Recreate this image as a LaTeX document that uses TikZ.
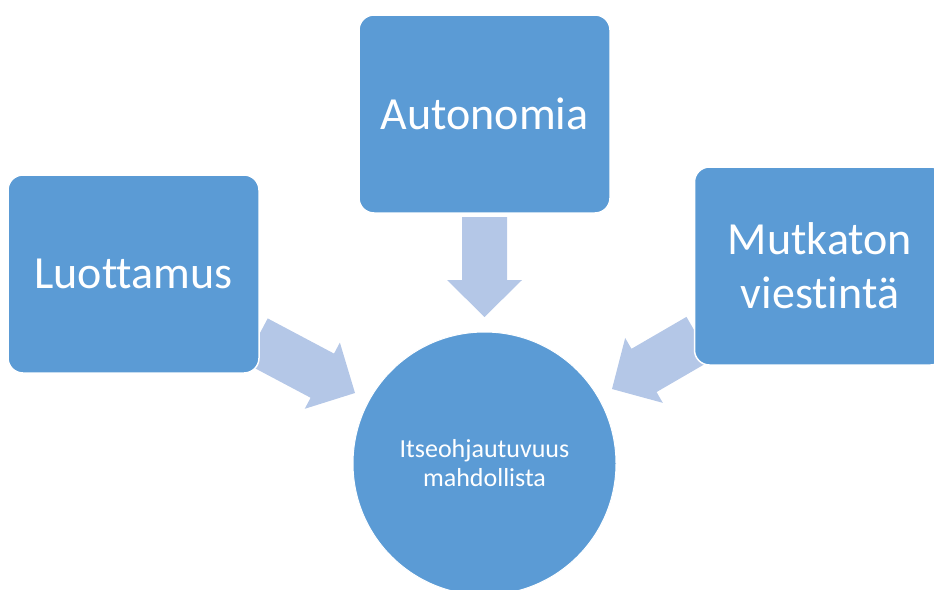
\documentclass[tikz,border=0pt]{standalone}
\usepackage{fontspec}
\setmainfont{Carlito}[Ligatures={NoCommon}]
\usetikzlibrary{calc}
\definecolor{boxblue}{HTML}{5B9BD5}
\definecolor{arrowblue}{HTML}{B4C7E7}
\tikzset{
  box/.style={draw=white, line width=1.5pt, fill=boxblue, rounded corners=15pt,
    minimum width=251pt, minimum height=198pt, text=white, align=center,
    font=\fontsize{46}{54}\selectfont, inner sep=0pt},
  hub/.style={circle, fill=boxblue, draw=white, line width=1pt, minimum size=263pt,
    text=white, align=center, font=\fontsize{26}{29}\selectfont, inner sep=0pt},
  blockarrow/.style={fill=arrowblue}
}
\newcommand{\blockarr}[4]{% from, to, shaft half width, head half width
  \coordinate (hb) at ($(#2)!37pt!(#1)$);
  \fill[blockarrow] ($(#1)!#3!90:(#2)$) -- ($(hb)!#3!-90:(#1)$) -- ($(hb)!#4!-90:(#1)$)
    -- (#2) -- ($(hb)!#4!90:(#1)$) -- ($(hb)!#3!90:(#1)$) -- ($(#1)!#3!-90:(#2)$) -- cycle;
}
\begin{document}
\begin{tikzpicture}[x=1pt,y=-1pt]
\useasboundingbox (0,0) rectangle (934,589);
\begin{scope}
\clip (0,0) rectangle (934,589);
\coordinate (a1) at (484.5,217);
\coordinate (a2) at (484.5,317);
\coordinate (l1) at (256,340.5);
\coordinate (l2) at (355,393);
\coordinate (r1) at (699,338.5);
\coordinate (r2) at (612,389);
\blockarr{a1}{a2}{22.5pt}{37.5pt}
\blockarr{l1}{l2}{25pt}{37.5pt}
\blockarr{r1}{r2}{25pt}{37.5pt}
\node[box] (luo) at (133.5,274) {Luottamus};
\node[box] (aut) at (484.5,114) {Autonomia};
\node[box] (mut) at (820,266) {Mutkaton\\viestintä};
\node[hub] (its) at (484.5,463.5) {Itseohjautuvuus\\mahdollista};
\end{scope}
\end{tikzpicture}
\end{document}
